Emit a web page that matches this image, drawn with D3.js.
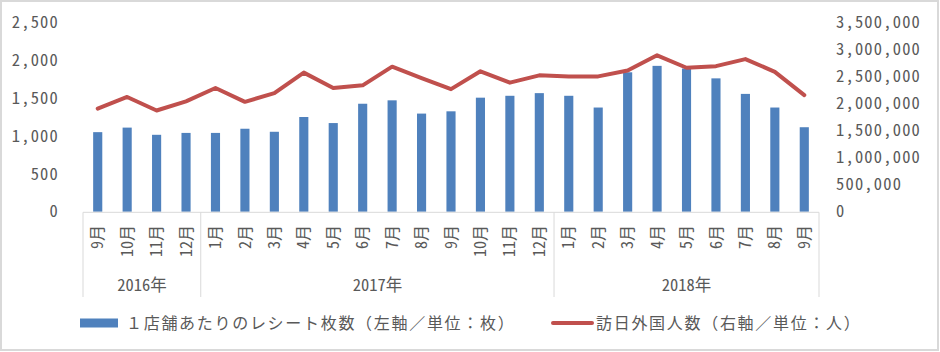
<!DOCTYPE html>
<html>
<head>
<meta charset="utf-8">
<script src="https://cdn.jsdelivr.net/npm/d3@7"></script>
<style>
  body { margin: 0; background: #fff; }
  svg text { font-family: 'Noto Sans CJK JP', sans-serif; fill: #595959; }
  .hw { font-feature-settings: 'hwid'; }
</style>
</head>
<body>
<div id="chart"></div>
<script>
var months = ['9月', '10月', '11月', '12月',
  '1月', '2月', '3月', '4月', '5月', '6月', '7月', '8月', '9月', '10月', '11月', '12月',
  '1月', '2月', '3月', '4月', '5月', '6月', '7月', '8月', '9月'];
var yearLabels = ['2016年', '2017年', '2018年'];
var yearSpans = [4, 12, 9];

// receipts per store (left axis)
var receipts = [1050, 1110, 1015, 1040,
  1040, 1095, 1055, 1250, 1170, 1425, 1470, 1295, 1325, 1505, 1530, 1565,
  1530, 1375, 1840, 1925, 1890, 1760, 1555, 1375, 1115];
// foreign visitors (right axis)
var visitors = [1905000, 2120000, 1870000, 2040000,
  2285000, 2030000, 2190000, 2570000, 2285000, 2335000, 2680000, 2470000, 2265000, 2595000, 2385000, 2520000,
  2500000, 2500000, 2610000, 2890000, 2660000, 2690000, 2820000, 2585000, 2155000];

var leftTicks = [0, 500, 1000, 1500, 2000, 2500];
var rightTicks = [0, 500000, 1000000, 1500000, 2000000, 2500000, 3000000, 3500000];
var legendLabels = ['１店舗あたりのレシート枚数（左軸／単位：枚）', '訪日外国人数（右軸／単位：人）'];

var width = 940;
var height = 352;
var plot = { left: 83, right: 819, top: 22.3, bottom: 211.7 };

var svg = d3
  .select('#chart')
  .append('svg')
  .attr('width', width)
  .attr('height', height);

// outer frame
svg
  .append('rect')
  .attr('x', 1)
  .attr('y', 1)
  .attr('width', width - 3)
  .attr('height', height - 3)
  .attr('fill', '#fff')
  .attr('stroke', '#d9d9d9')
  .attr('stroke-width', 2);

var x = d3
  .scaleBand()
  .domain(d3.range(months.length))
  .range([plot.left, plot.right])
  .padding(0);

var yLeft = d3.scaleLinear().domain([0, 2500]).range([plot.bottom, plot.top]);
var yRight = d3.scaleLinear().domain([0, 3500000]).range([plot.bottom, plot.top]);

var fmt = d3.format(',');

// axes (labels only, no lines)
var leftAxis = svg
  .append('g')
  .attr('transform', 'translate(59,0)')
  .call(d3.axisLeft(yLeft).tickValues(leftTicks).tickFormat(fmt).tickSize(0).tickPadding(0));
var rightAxis = svg
  .append('g')
  .attr('transform', 'translate(836,0)')
  .call(d3.axisRight(yRight).tickValues(rightTicks).tickFormat(fmt).tickSize(0).tickPadding(0));
[leftAxis, rightAxis].forEach(function(a) {
  a.select('.domain').remove();
  a.selectAll('text')
    .attr('class', 'hw')
    .attr('font-size', 16.5)
    .attr('letter-spacing', 1.2)
    .attr('fill', '#595959')
    .style('font-family', null);
});

// bars
var barW = x.bandwidth() * 0.31;
svg
  .append('g')
  .selectAll('rect')
  .data(receipts)
  .enter()
  .append('rect')
  .attr('x', (d, i) => x(i) + x.bandwidth() / 2 - barW / 2)
  .attr('y', d => yLeft(d))
  .attr('width', barW)
  .attr('height', d => yLeft(0) - yLeft(d))
  .attr('fill', '#4f81bd');

// line
var line = d3
  .line()
  .x((d, i) => x(i) + x.bandwidth() / 2)
  .y(d => yRight(d));
svg
  .append('path')
  .datum(visitors)
  .attr('d', line)
  .attr('fill', 'none')
  .attr('stroke', '#c0504d')
  .attr('stroke-width', 4)
  .attr('stroke-linejoin', 'round')
  .attr('stroke-linecap', 'round');

// category axis
var axisY = 212.3;
var divBottom = 297;
svg
  .append('line')
  .attr('x1', plot.left)
  .attr('x2', plot.right)
  .attr('y1', axisY)
  .attr('y2', axisY)
  .attr('stroke', '#d9d9d9')
  .attr('stroke-width', 1);

var bounds = [0];
yearSpans.forEach(s => bounds.push(bounds[bounds.length - 1] + s));
svg
  .append('g')
  .selectAll('line')
  .data(bounds)
  .enter()
  .append('line')
  .attr('x1', d => (d < months.length ? x(d) : plot.right))
  .attr('x2', d => (d < months.length ? x(d) : plot.right))
  .attr('y1', axisY)
  .attr('y2', divBottom)
  .attr('stroke', '#d9d9d9')
  .attr('stroke-width', 1);

svg
  .append('g')
  .selectAll('text')
  .data(months)
  .enter()
  .append('text')
  .attr('class', 'hw')
  .attr('transform', (d, i) => 'translate(' + (x(i) + x.bandwidth() / 2) + ',225) rotate(-90)')
  .attr('text-anchor', 'end')
  .attr('dy', '0.35em')
  .attr('font-size', 16)
  .text(d => d);

svg
  .append('g')
  .selectAll('text')
  .data(yearLabels)
  .enter()
  .append('text')
  .attr('class', 'hw')
  .attr('x', (d, i) => {
    var a = x(bounds[i]);
    var b = bounds[i + 1] < months.length ? x(bounds[i + 1]) : plot.right;
    return (a + b) / 2;
  })
  .attr('y', 285)
  .attr('dy', '0.35em')
  .attr('text-anchor', 'middle')
  .attr('font-size', 16.5)
  .text(d => d);

// legend
var legend = svg.append('g');
legend
  .append('rect')
  .attr('x', 80)
  .attr('y', 318.5)
  .attr('width', 38)
  .attr('height', 9)
  .attr('fill', '#4f81bd');
legend
  .append('text')
  .attr('x', 126)
  .attr('y', 323)
  .attr('dy', '0.35em')
  .attr('font-size', 16)
  .attr('letter-spacing', 1.7)
  .text(legendLabels[0]);
legend
  .append('line')
  .attr('x1', 553)
  .attr('x2', 592)
  .attr('y1', 323)
  .attr('y2', 323)
  .attr('stroke', '#c0504d')
  .attr('stroke-width', 4)
  .attr('stroke-linecap', 'round');
legend
  .append('text')
  .attr('x', 596)
  .attr('y', 323)
  .attr('dy', '0.35em')
  .attr('font-size', 16)
  .attr('letter-spacing', 1.7)
  .text(legendLabels[1]);
</script>
</body>
</html>
